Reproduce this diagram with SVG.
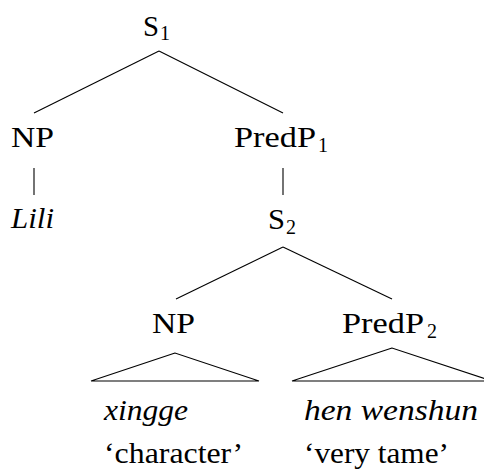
<svg xmlns="http://www.w3.org/2000/svg" width="484" height="474" viewBox="0 0 484 474">
<style>
.t{font-family:"Liberation Serif",serif;font-size:29px;fill:#000}
.it{font-style:italic}
.sub{font-size:20px;text-anchor:middle}
.ln{stroke:#000;stroke-width:1.1;fill:none}
</style>
<rect width="484" height="474" fill="#fff"/>
<g id="connectors">
<line class="ln" x1="159" y1="51" x2="34" y2="113"/>
<line class="ln" x1="159" y1="51" x2="283" y2="113"/>
<line class="ln" x1="34" y1="168" x2="34" y2="195"/>
<line class="ln" x1="283" y1="168" x2="283" y2="195"/>
<line class="ln" x1="283" y1="247" x2="176" y2="299"/>
<line class="ln" x1="283" y1="247" x2="392" y2="299"/>
<polygon class="ln" points="175,353 91,381 259,381"/>
<polygon class="ln" points="392,348 292,381 492,381"/>
</g>
<g id="S1"><text class="t" x="143" y="36" textLength="16" lengthAdjust="spacingAndGlyphs">S</text><text class="t sub" x="165" y="40">1</text></g>
<g id="NP1"><text class="t" x="11" y="147" textLength="43" lengthAdjust="spacingAndGlyphs">NP</text></g>
<g id="PredP1"><text class="t" x="234" y="147" textLength="82" lengthAdjust="spacingAndGlyphs">PredP</text><text class="t sub" x="323" y="152">1</text></g>
<g id="Lili"><text class="t it" x="11" y="228" textLength="43" lengthAdjust="spacingAndGlyphs">Lili</text></g>
<g id="S2"><text class="t" x="268" y="229" textLength="17" lengthAdjust="spacingAndGlyphs">S</text><text class="t sub" x="291" y="234">2</text></g>
<g id="NP2"><text class="t" x="152" y="333" textLength="43" lengthAdjust="spacingAndGlyphs">NP</text></g>
<g id="PredP2"><text class="t" x="342" y="333" textLength="82" lengthAdjust="spacingAndGlyphs">PredP</text><text class="t sub" x="432" y="338">2</text></g>
<g id="xingge"><text class="t it" x="104" y="420" textLength="84" lengthAdjust="spacingAndGlyphs">xingge</text><text class="t" x="104" y="463" textLength="139" lengthAdjust="spacingAndGlyphs">‘character’</text></g>
<g id="henwenshun"><text class="t it" x="304" y="420" textLength="174" lengthAdjust="spacingAndGlyphs">hen wenshun</text><text class="t" x="304" y="463" textLength="145" lengthAdjust="spacingAndGlyphs">‘very tame’</text></g>
</svg>
